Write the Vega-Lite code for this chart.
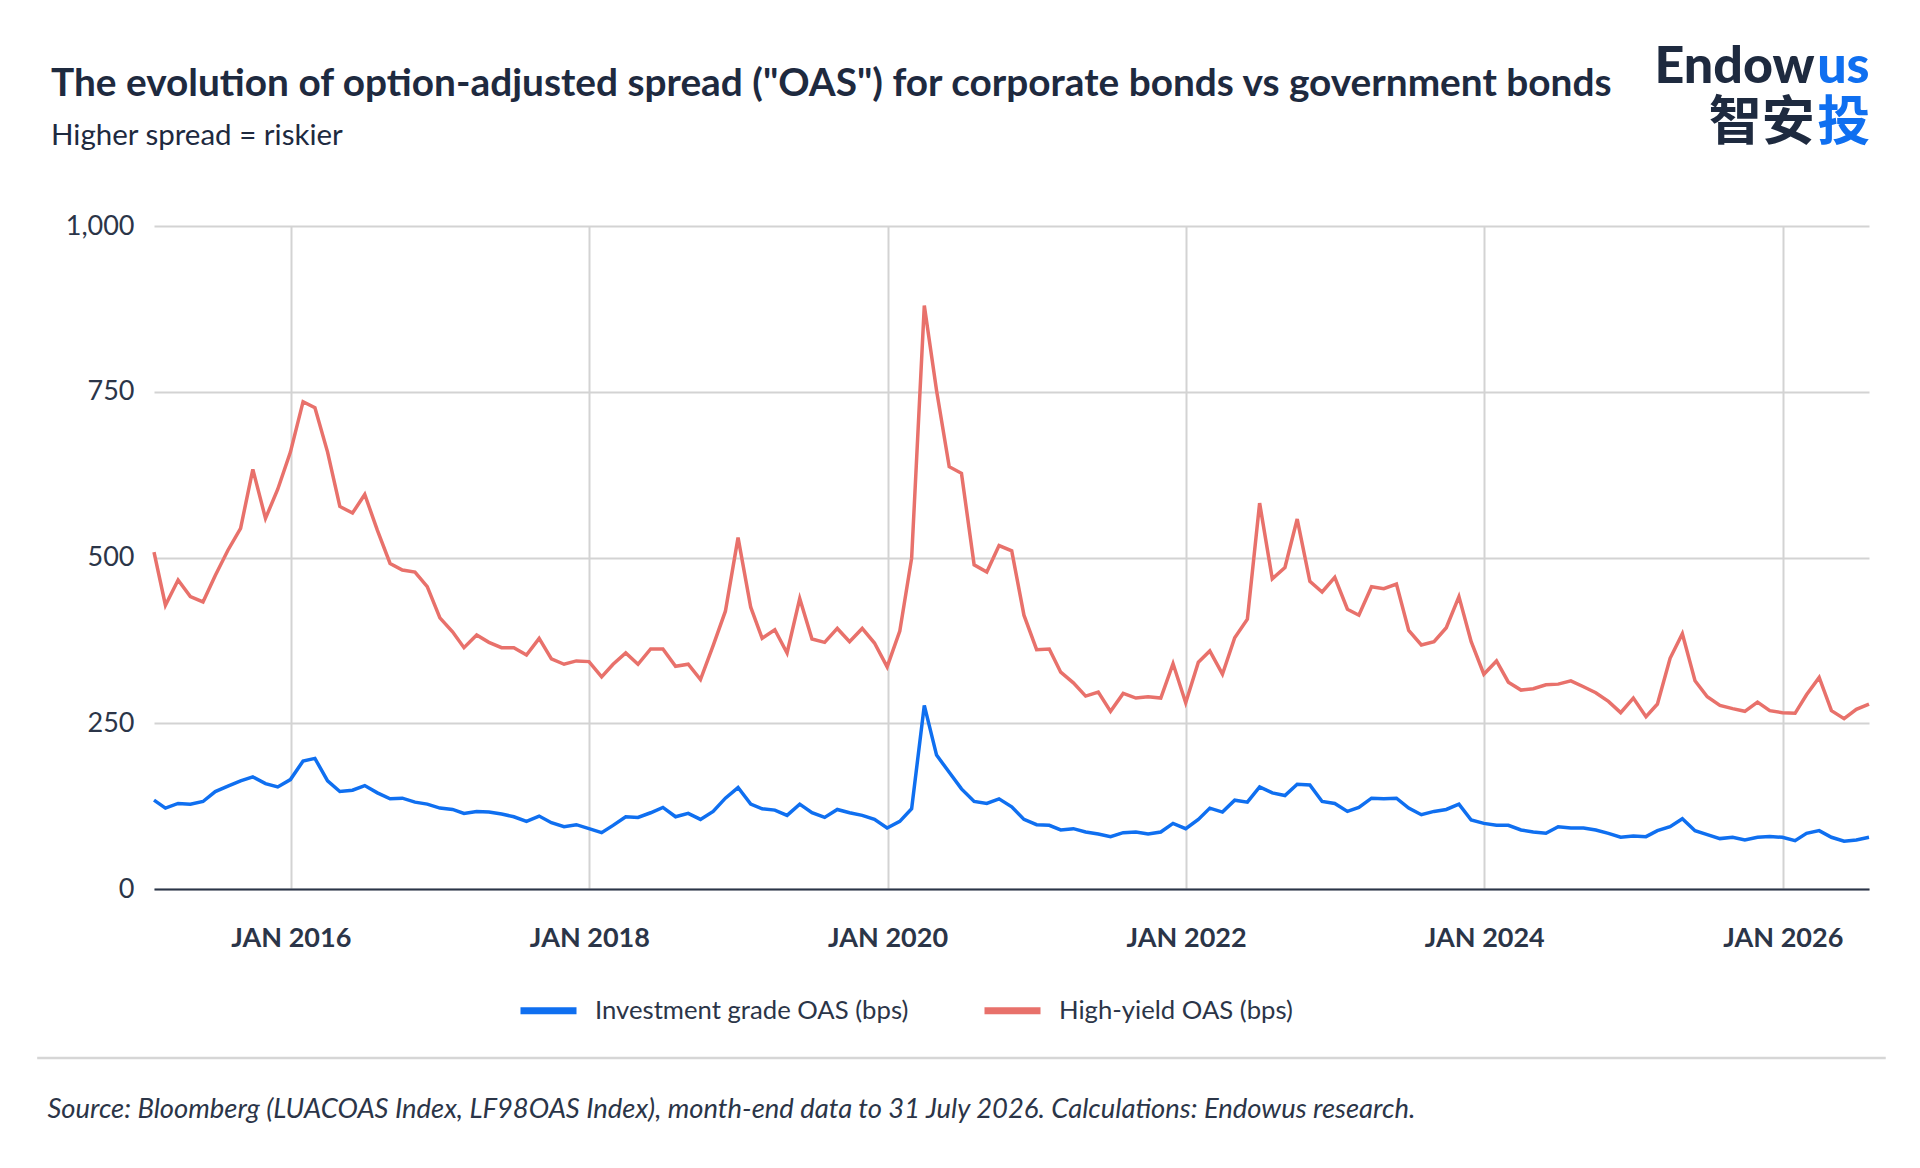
{
  "$schema": "https://vega.github.io/schema/vega-lite/v6.json",
  "width": 1715,
  "height": 663,
  "autosize": {"type": "none"},
  "padding": {"left": 154, "top": 226, "right": 51, "bottom": 279},
  "background": "white",
  "config": {"view": {"stroke": null}, "font": "Lato"},
  "title": {
    "text": "The evolution of option-adjusted spread (\"OAS\") for corporate bonds vs government bonds",
    "subtitle": "Higher spread = riskier",
    "anchor": "start",
    "frame": "group",
    "orient": "top",
    "dx": -103,
    "offset": -110,
    "subtitlePadding": 18,
    "font": "Lato",
    "fontSize": 38.8,
    "fontWeight": "bold",
    "color": "#1e2a3f",
    "subtitleFont": "Lato",
    "subtitleFontSize": 29.5,
    "subtitleColor": "#1e2a3f"
  },
  "data": {"values": [
    {"d":"2015-01-31","ig":134,"hy":508},{"d":"2015-02-28","ig":122,"hy":428},{"d":"2015-03-31","ig":129,"hy":466},{"d":"2015-04-30","ig":128,"hy":441},{"d":"2015-05-31","ig":132,"hy":433},{"d":"2015-06-30","ig":147,"hy":473},{"d":"2015-07-31","ig":155,"hy":511},{"d":"2015-08-31","ig":163,"hy":544},{"d":"2015-09-30","ig":169,"hy":633},{"d":"2015-10-31","ig":159,"hy":559},{"d":"2015-11-30","ig":154,"hy":603},{"d":"2015-12-31","ig":165,"hy":659},
    {"d":"2016-01-31","ig":193,"hy":735},{"d":"2016-02-29","ig":197,"hy":726},{"d":"2016-03-31","ig":163,"hy":659},{"d":"2016-04-30","ig":147,"hy":577},{"d":"2016-05-31","ig":149,"hy":567},{"d":"2016-06-30","ig":156,"hy":595},{"d":"2016-07-31","ig":145,"hy":541},{"d":"2016-08-31","ig":136,"hy":491},{"d":"2016-09-30","ig":137,"hy":481},{"d":"2016-10-31","ig":131,"hy":478},{"d":"2016-11-30","ig":128,"hy":456},{"d":"2016-12-31","ig":122,"hy":409},
    {"d":"2017-01-31","ig":120,"hy":388},{"d":"2017-02-28","ig":114,"hy":364},{"d":"2017-03-31","ig":117,"hy":383},{"d":"2017-04-30","ig":116,"hy":372},{"d":"2017-05-31","ig":113,"hy":364},{"d":"2017-06-30","ig":109,"hy":364},{"d":"2017-07-31","ig":102,"hy":353},{"d":"2017-08-31","ig":110,"hy":378},{"d":"2017-09-30","ig":100,"hy":347},{"d":"2017-10-31","ig":94,"hy":339},{"d":"2017-11-30","ig":97,"hy":344},{"d":"2017-12-31","ig":91,"hy":343},
    {"d":"2018-01-31","ig":85,"hy":320},{"d":"2018-02-28","ig":96,"hy":339},{"d":"2018-03-31","ig":109,"hy":356},{"d":"2018-04-30","ig":108,"hy":339},{"d":"2018-05-31","ig":115,"hy":362},{"d":"2018-06-30","ig":123,"hy":362},{"d":"2018-07-31","ig":109,"hy":336},{"d":"2018-08-31","ig":114,"hy":339},{"d":"2018-09-30","ig":105,"hy":316},{"d":"2018-10-31","ig":117,"hy":367},{"d":"2018-11-30","ig":137,"hy":419},{"d":"2018-12-31","ig":153,"hy":530},
    {"d":"2019-01-31","ig":128,"hy":425},{"d":"2019-02-28","ig":121,"hy":378},{"d":"2019-03-31","ig":119,"hy":391},{"d":"2019-04-30","ig":111,"hy":356},{"d":"2019-05-31","ig":128,"hy":438},{"d":"2019-06-30","ig":115,"hy":377},{"d":"2019-07-31","ig":108,"hy":372},{"d":"2019-08-31","ig":120,"hy":393},{"d":"2019-09-30","ig":115,"hy":373},{"d":"2019-10-31","ig":111,"hy":393},{"d":"2019-11-30","ig":105,"hy":371},{"d":"2019-12-31","ig":92,"hy":335},
    {"d":"2020-01-31","ig":102,"hy":389},{"d":"2020-02-29","ig":121,"hy":499},{"d":"2020-03-31","ig":277,"hy":880},{"d":"2020-04-30","ig":202,"hy":752},{"d":"2020-05-31","ig":176,"hy":637},{"d":"2020-06-30","ig":151,"hy":627},{"d":"2020-07-31","ig":132,"hy":489},{"d":"2020-08-31","ig":129,"hy":478},{"d":"2020-09-30","ig":136,"hy":518},{"d":"2020-10-31","ig":124,"hy":510},{"d":"2020-11-30","ig":105,"hy":413},{"d":"2020-12-31","ig":97,"hy":361},
    {"d":"2021-01-31","ig":96,"hy":362},{"d":"2021-02-28","ig":89,"hy":327},{"d":"2021-03-31","ig":91,"hy":311},{"d":"2021-04-30","ig":86,"hy":291},{"d":"2021-05-31","ig":83,"hy":297},{"d":"2021-06-30","ig":79,"hy":268},{"d":"2021-07-31","ig":85,"hy":295},{"d":"2021-08-31","ig":86,"hy":288},{"d":"2021-09-30","ig":83,"hy":290},{"d":"2021-10-31","ig":86,"hy":288},{"d":"2021-11-30","ig":99,"hy":340},{"d":"2021-12-31","ig":91,"hy":281},
    {"d":"2022-01-31","ig":105,"hy":342},{"d":"2022-02-28","ig":122,"hy":359},{"d":"2022-03-31","ig":116,"hy":324},{"d":"2022-04-30","ig":134,"hy":379},{"d":"2022-05-31","ig":131,"hy":407},{"d":"2022-06-30","ig":154,"hy":582},{"d":"2022-07-31","ig":145,"hy":468},{"d":"2022-08-31","ig":141,"hy":485},{"d":"2022-09-30","ig":158,"hy":558},{"d":"2022-10-31","ig":157,"hy":464},{"d":"2022-11-30","ig":132,"hy":448},{"d":"2022-12-31","ig":129,"hy":470},
    {"d":"2023-01-31","ig":117,"hy":422},{"d":"2023-02-28","ig":123,"hy":413},{"d":"2023-03-31","ig":137,"hy":456},{"d":"2023-04-30","ig":136,"hy":453},{"d":"2023-05-31","ig":137,"hy":460},{"d":"2023-06-30","ig":122,"hy":390},{"d":"2023-07-31","ig":112,"hy":368},{"d":"2023-08-31","ig":117,"hy":373},{"d":"2023-09-30","ig":120,"hy":394},{"d":"2023-10-31","ig":128,"hy":441},{"d":"2023-11-30","ig":104,"hy":373},{"d":"2023-12-31","ig":99,"hy":324},
    {"d":"2024-01-31","ig":96,"hy":344},{"d":"2024-02-29","ig":96,"hy":312},{"d":"2024-03-31","ig":89,"hy":300},{"d":"2024-04-30","ig":86,"hy":302},{"d":"2024-05-31","ig":84,"hy":308},{"d":"2024-06-30","ig":94,"hy":309},{"d":"2024-07-31","ig":92,"hy":314},{"d":"2024-08-31","ig":92,"hy":305},{"d":"2024-09-30","ig":89,"hy":296},{"d":"2024-10-31","ig":84,"hy":283},{"d":"2024-11-30","ig":78,"hy":266},{"d":"2024-12-31","ig":80,"hy":288},
    {"d":"2025-01-31","ig":79,"hy":260},{"d":"2025-02-28","ig":88,"hy":279},{"d":"2025-03-31","ig":94,"hy":348},{"d":"2025-04-30","ig":106,"hy":385},{"d":"2025-05-31","ig":88,"hy":314},{"d":"2025-06-30","ig":82,"hy":290},{"d":"2025-07-31","ig":76,"hy":277},{"d":"2025-08-31","ig":78,"hy":272},{"d":"2025-09-30","ig":74,"hy":268},{"d":"2025-10-31","ig":78,"hy":282},{"d":"2025-11-30","ig":79,"hy":269},{"d":"2025-12-31","ig":78,"hy":266},
    {"d":"2026-01-31","ig":73,"hy":265},{"d":"2026-02-28","ig":84,"hy":293},{"d":"2026-03-31","ig":88,"hy":319},{"d":"2026-04-30","ig":78,"hy":269},{"d":"2026-05-31","ig":72,"hy":257},{"d":"2026-06-30","ig":74,"hy":271},{"d":"2026-07-31","ig":78,"hy":279}
  ]},
  "layer": [
    {
      "transform": [{"fold": ["ig", "hy"], "as": ["series", "value"]}],
      "mark": {"type": "line", "strokeWidth": 3.5, "strokeJoin": "miter", "clip": false},
      "encoding": {
        "x": {
          "field": "d", "type": "temporal",
          "scale": {"domain": [{"year": 2015, "month": 1, "date": 31}, {"year": 2026, "month": 7, "date": 31}]},
          "axis": {
            "values": [{"year": 2016, "month": 1, "date": 1}, {"year": 2018, "month": 1, "date": 1}, {"year": 2020, "month": 1, "date": 1}, {"year": 2022, "month": 1, "date": 1}, {"year": 2024, "month": 1, "date": 1}, {"year": 2026, "month": 1, "date": 1}],
            "labelExpr": "upper(timeFormat(datum.value, '%b %Y'))",
            "grid": true, "gridColor": "#d3d3d3", "gridWidth": 2,
            "ticks": false, "tickSize": 0,
            "domain": true, "domainColor": "#2b3548", "domainWidth": 2,
            "labelFont": "Lato", "labelFontWeight": "bold", "labelFontSize": 27, "labelColor": "#2b3548",
            "labelBaseline": "alphabetic", "labelPadding": 57, "labelFlush": false, "labelOverlap": false,
            "title": "Source: Bloomberg (LUACOAS Index, LF98OAS Index), month-end data to 31 July 2026. Calculations: Endowus research.",
            "titleX": -107, "titleY": 228, "titleAlign": "left", "titleBaseline": "alphabetic", "titleLimit": 0,
            "titleFont": "Lato", "titleFontStyle": "italic", "titleFontWeight": "normal", "titleFontSize": 27.4, "titleColor": "#2b3548"
          }
        },
        "y": {
          "field": "value", "type": "quantitative",
          "scale": {"domain": [0, 1000], "nice": false},
          "axis": {
            "values": [0, 250, 500, 750, 1000], "format": ",d",
            "grid": true, "gridColor": "#d3d3d3", "gridWidth": 2,
            "domain": false, "ticks": false,
            "labelFont": "Lato", "labelFontSize": 27, "labelColor": "#2b3548", "labelPadding": 20,
            "title": null
          }
        },
        "color": {
          "field": "series", "type": "nominal",
          "scale": {"domain": ["ig", "hy"], "range": ["#0f6ff0", "#e8716b"]},
          "legend": {
            "orient": "none", "legendX": 363, "legendY": 753, "direction": "horizontal",
            "title": null, "padding": 0,
            "symbolType": "stroke", "symbolSize": 3136, "symbolStrokeWidth": 7,
            "labelFont": "Lato", "labelFontSize": 25.7, "labelColor": "#2b3548", "labelOffset": 15, "labelLimit": 0,
            "columnPadding": 61,
            "labelExpr": "datum.label == 'ig' ? 'Investment grade OAS (bps)' : 'High-yield OAS (bps)'"
          }
        }
      }
    },
    {
      "data": {"values": [{}]},
      "mark": {"type": "rule", "color": "#d6d6d6", "strokeWidth": 2.5, "clip": false},
      "encoding": {
        "x": {"datum": {"year": 2014, "month": 4, "date": 20}, "type": "temporal"},
        "x2": {"datum": {"year": 2026, "month": 9, "date": 10}},
        "y": {"datum": -255, "type": "quantitative"}
      }
    },
    {
      "data": {"values": [{}]},
      "mark": {"type": "text", "text": "Endow", "align": "right", "baseline": "alphabetic", "font": "Lato", "fontWeight": 900, "fontSize": 52, "color": "#1e2a3f", "clip": false},
      "encoding": {
        "x": {"datum": {"year": 2026, "month": 3, "date": 20}, "type": "temporal"},
        "y": {"datum": 1216, "type": "quantitative"}
      }
    },
    {
      "data": {"values": [{}]},
      "mark": {"type": "text", "text": "us", "align": "left", "baseline": "alphabetic", "font": "Lato", "fontWeight": 900, "fontSize": 52, "color": "#0f6ff0", "clip": false},
      "encoding": {
        "x": {"datum": {"year": 2026, "month": 3, "date": 26}, "type": "temporal"},
        "y": {"datum": 1216, "type": "quantitative"}
      }
    },
    {
      "data": {"values": [{}]},
      "mark": {"type": "text", "text": "智安", "align": "right", "baseline": "alphabetic", "font": "Noto Sans CJK SC", "fontWeight": "bold", "fontSize": 53, "color": "#1e2a3f", "clip": false},
      "encoding": {
        "x": {"datum": {"year": 2026, "month": 3, "date": 20}, "type": "temporal"},
        "y": {"datum": 1129, "type": "quantitative"}
      }
    },
    {
      "data": {"values": [{}]},
      "mark": {"type": "text", "text": "投", "align": "left", "baseline": "alphabetic", "font": "Noto Sans CJK SC", "fontWeight": "bold", "fontSize": 53, "color": "#0f6ff0", "clip": false},
      "encoding": {
        "x": {"datum": {"year": 2026, "month": 3, "date": 26}, "type": "temporal"},
        "y": {"datum": 1129, "type": "quantitative"}
      }
    }
  ]
}
